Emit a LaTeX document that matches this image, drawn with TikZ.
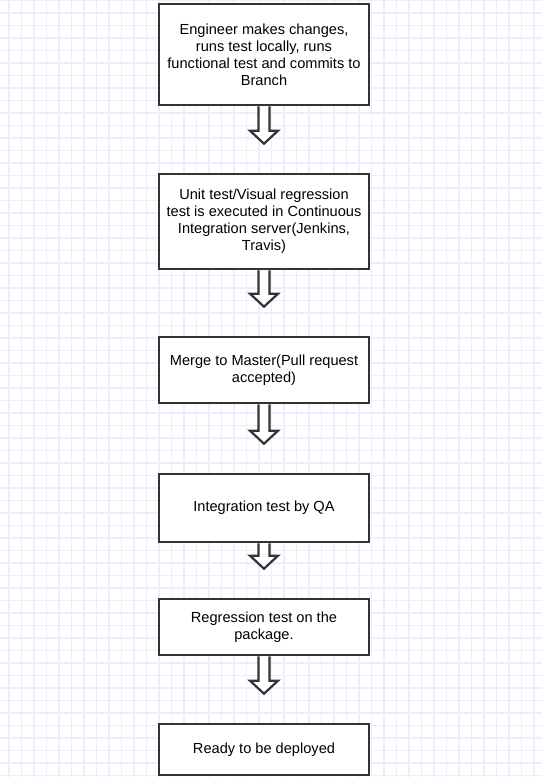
\documentclass[tikz,border=0pt]{standalone}
\usepackage{fontspec}
\setmainfont{Liberation Sans}
\usetikzlibrary{calc}
\definecolor{gridblue}{RGB}{237,237,255}
\definecolor{boxgray}{RGB}{51,51,51}
\tikzset{
  stepbox/.style={draw=boxgray, line width=2.6pt, fill=white, minimum width=210pt,
    align=center, inner sep=0pt, font=\fontsize{14.6}{17}\selectfont},
  flowline/.style={draw=boxgray, line width=2.2pt, fill=white, line join=miter},
  gridline/.style={gridblue, line width=1.3pt}
}
% hollow block arrow from one box to the next
\newcommand{\flowarrow}[2]{%
  \draw[flowline] ($(#1.south)+(-5.5,0)$) -- ($(#2.north)+(-5.5,-42)$)
    -- ($(#2.north)+(-14,-42)$) -- ($(#2.north)+(0,-29)$)
    -- ($(#2.north)+(14,-42)$) -- ($(#2.north)+(5.5,-42)$)
    -- ($(#1.south)+(5.5,0)$);}
\begin{document}
\begin{tikzpicture}[x=1pt, y=-1pt]
\useasboundingbox (0,0) rectangle (542,777);
\fill[white] (0,0) rectangle (542,777);
\foreach \gx in {9,21.5,...,535} \draw[gridline] (\gx,0) -- (\gx,777);
\foreach \gy in {0.5,13,...,777} \draw[gridline] (0,\gy) -- (542,\gy);
\node[stepbox, minimum height=101pt](commit) at (264, 54.5) {Engineer makes changes,\\runs test locally, runs\\functional test and commits to\\Branch};
\node[stepbox, minimum height=95pt](unit) at (264, 221.5) {Unit test/Visual regression\\test is executed in Continuous\\Integration server(Jenkins,\\Travis)};
\node[stepbox, minimum height=66pt](merge) at (264, 370) {Merge to Master(Pull request\\accepted)};
\node[stepbox, minimum height=68pt](integ) at (264, 508) {Integration test by QA};
\node[stepbox, minimum height=56pt](regr) at (264, 627) {Regression test on the\\package.};
\node[stepbox, minimum height=51pt](deploy) at (264, 749.5) {Ready to be deployed};
\flowarrow{commit}{unit}
\flowarrow{unit}{merge}
\flowarrow{merge}{integ}
\flowarrow{integ}{regr}
\flowarrow{regr}{deploy}
\end{tikzpicture}
\end{document}
